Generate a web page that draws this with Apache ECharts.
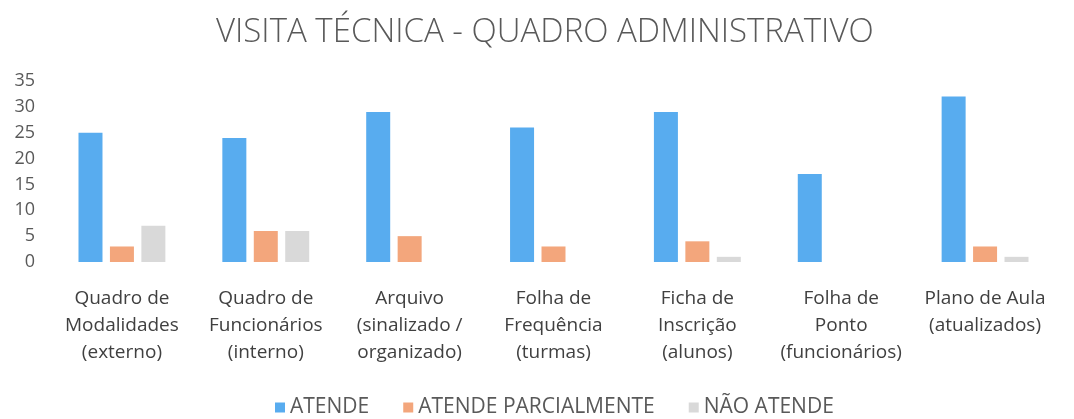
<!DOCTYPE html>
<html>
<head>
<meta charset="utf-8">
<script src="https://cdn.jsdelivr.net/npm/echarts@6/dist/echarts.min.js"></script>
<style>
  html, body { margin: 0; padding: 0; background: #fff; }
  #chart { width: 1074px; height: 419px; }
</style>
</head>
<body>
<div id="chart"></div>
<script>
const categories = [
  'Quadro de\nModalidades\n(externo)',
  'Quadro de\nFuncionários\n(interno)',
  'Arquivo\n(sinalizado /\norganizado)',
  'Folha de\nFrequência\n(turmas)',
  'Ficha de\nInscrição\n(alunos)',
  'Folha de\nPonto\n(funcionários)',
  'Plano de Aula\n(atualizados)'
]
const atende = [25, 24, 29, 26, 29, 17, 32]
const parcial = [3, 6, 5, 3, 4, 0, 3]
const naoAtende = [7, 6, 0, 0, 1, 0, 1]

const font = '"Open Sans", "Liberation Sans", sans-serif'
const textColor = '#595959'

const chart = echarts.init(document.getElementById('chart'))
chart.setOption({
  animation: false,
  color: ['#58acef', '#f3a67c', '#d9d9d9'],
  title: {
    text: 'VISITA TÉCNICA - QUADRO ADMINISTRATIVO',
    left: 211,
    top: 11,
    textStyle: { fontFamily: font, fontSize: 33, fontWeight: 300, color: textColor }
  },
  legend: {
    top: 392,
    left: 270,
    itemWidth: 10,
    itemHeight: 10,
    itemGap: 34,
    icon: 'rect',
    textStyle: { fontFamily: font, fontSize: 21, color: textColor }
  },
  grid: { left: 50, right: 17, top: 81, bottom: 157 },
  xAxis: {
    type: 'category',
    data: categories,
    axisLine: { show: false },
    axisTick: { show: false },
    axisLabel: {
      interval: 0,
      margin: 23,
      fontFamily: font,
      fontSize: 19,
      lineHeight: 27,
      color: '#404040'
    }
  },
  yAxis: {
    type: 'value',
    min: 0,
    max: 35,
    interval: 5,
    splitLine: { show: false },
    axisLabel: { fontFamily: font, fontSize: 18, color: textColor, margin: 15 }
  },
  series: [
    { name: 'ATENDE', type: 'bar', data: atende, barWidth: 24, barGap: '31%' },
    { name: 'ATENDE PARCIALMENTE', type: 'bar', data: parcial, barWidth: 24, barGap: '31%' },
    { name: 'NÃO ATENDE', type: 'bar', data: naoAtende, barWidth: 24, barGap: '31%' }
  ]
})
</script>
</body>
</html>
